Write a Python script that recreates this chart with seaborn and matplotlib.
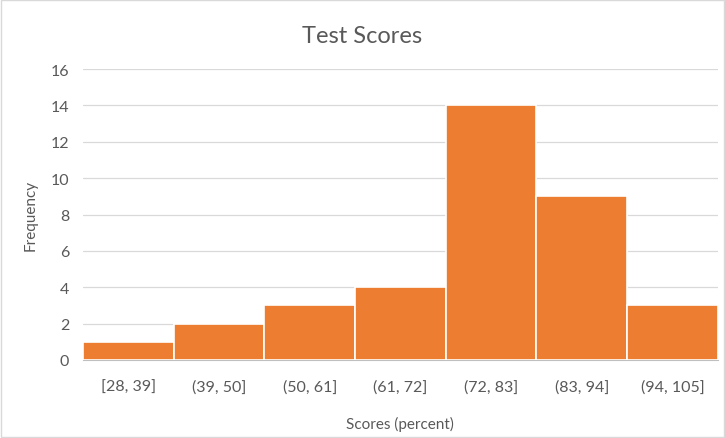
import matplotlib
matplotlib.use('Agg')
import matplotlib.pyplot as plt
import seaborn as sns
import pandas as pd

# dados do histograma
bins = ['[28, 39]', '(39, 50]', '(50, 61]', '(61, 72]', '(72, 83]', '(83, 94]', '(94, 105]']
freq = [1, 2, 3, 4, 14, 9, 3]

df = pd.DataFrame({'bin': bins, 'freq': freq})

sns.set_style('white')
plt.rcParams['font.family'] = ['Lato', 'DejaVu Sans']

fig = plt.figure(figsize=(7.25, 4.39), dpi=100)
ax = fig.add_axes([0.1145, 0.1777, 0.8755, 0.6628])

sns.barplot(data=df, x='bin', y='freq', color='#ED7D31', width=1.0,
            edgecolor='white', linewidth=1.2, saturation=1, ax=ax, zorder=3)

ax.set_ylim(0, 16)
ax.set_yticks(range(0, 17, 2))
ax.set_xlim(-0.5, len(bins) - 0.5)
ax.grid(axis='y', color='#D9D9D9', linewidth=0.9, zorder=0)
for s in ['top', 'right', 'left']:
    ax.spines[s].set_visible(False)
ax.spines['bottom'].set_color('#BFBFBF')
ax.tick_params(axis='both', length=0, labelsize=11.5, labelcolor='#595959')
ax.tick_params(axis='x', pad=14)
ax.tick_params(axis='y', pad=10)

ax.set_xlabel('Scores (percent)', fontsize=11, color='#595959')
ax.set_ylabel('Frequency', fontsize=11, color='#595959')
ax.xaxis.set_label_coords(0.5, -0.192)
ax.yaxis.set_label_coords(-0.071, 0.5)
fig.suptitle('Test Scores', fontsize=17, color='#595959', y=0.94)

# borda do gráfico
fig.patches.append(plt.Rectangle((0.002, 0.002), 0.996, 0.996, transform=fig.transFigure,
                                 fill=False, edgecolor='#D9D9D9', linewidth=1))

fig.savefig('out.png', dpi=100)
